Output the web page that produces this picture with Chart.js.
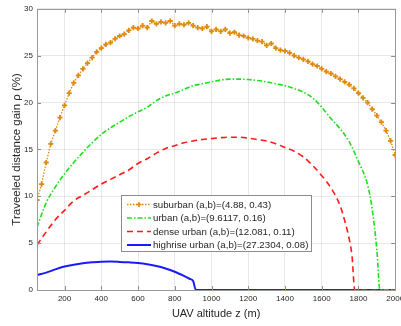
<!DOCTYPE html>
<html>
<head>
<meta charset="utf-8">
<script src="https://cdn.jsdelivr.net/npm/chart.js@4"></script>
<style>
  html, body { margin: 0; padding: 0; background: #fff; }
  #wrap { width: 401px; height: 326px; }
</style>
</head>
<body>
<div id="wrap"><canvas id="gainChart" width="401" height="326"></canvas></div>
<script>
// altitude z (m) and gain (%)
const suburbanZ = [
  50, 75, 100, 125, 150, 175, 200, 225, 250, 275, 300, 325, 350, 375, 400,
  425, 450, 475, 500, 525, 550, 575, 600, 625, 650, 675, 700, 725, 750, 775,
  800, 825, 850, 875, 900, 925, 950, 975, 1000, 1025, 1050, 1075, 1100, 1125,
  1150, 1175, 1200, 1225, 1250, 1275, 1300, 1325, 1350, 1375, 1400, 1425,
  1450, 1475, 1500, 1525, 1550, 1575, 1600, 1625, 1650, 1675, 1700, 1725,
  1750, 1775, 1800, 1825, 1850, 1875, 1900, 1925, 1950, 1975, 2000,
];
const suburbanGain = [
  9.6, 11.3, 13.6, 15.6, 17.0, 18.4, 19.7, 21.0, 22.1, 22.9, 23.6, 24.2, 24.8,
  25.4, 25.8, 26.2, 26.4, 26.8, 27.1, 27.3, 27.7, 28.0, 27.9, 28.2, 28.0,
  28.7, 28.4, 28.6, 28.5, 28.7, 28.2, 28.4, 28.3, 28.5, 28.2, 28.0, 27.9,
  28.1, 27.6, 27.8, 27.6, 27.8, 27.4, 27.5, 27.2, 27.1, 26.9, 26.8, 26.6,
  26.5, 26.1, 26.3, 25.8, 25.6, 25.5, 25.3, 25.0, 24.8, 24.6, 24.4, 24.1,
  23.9, 23.6, 23.3, 23.1, 22.8, 22.5, 22.2, 21.9, 21.5, 21.0, 20.5, 20.0,
  19.3, 18.6, 17.9, 17.0, 15.9, 14.4,
];

const urbanZ = [
  50, 100, 150, 200, 250, 300, 350, 400, 450, 500, 550, 600, 650, 700, 750,
  800, 850, 900, 950, 1000, 1050, 1100, 1150, 1200, 1250, 1300, 1350, 1400,
  1450, 1500, 1550, 1600, 1650, 1700, 1750, 1800, 1850, 1875, 1900, 1917, 2000,
];
const urbanGain = [
  6.7, 9.3, 11.0, 12.4, 13.6, 14.7, 15.7, 16.6, 17.3, 17.9, 18.5, 19.0, 19.5,
  20.2, 20.7, 21.0, 21.4, 21.8, 22.0, 22.2, 22.4, 22.5, 22.5, 22.45, 22.35,
  22.2, 22.0, 21.8, 21.5, 21.1, 20.5, 19.5, 18.3, 17.2, 15.8, 13.7, 11.2,
  8.6, 4.3, 0, 0,
];

const denseZ = [
  50, 100, 150, 200, 250, 300, 350, 400, 450, 500, 550, 600, 650, 700, 750,
  800, 850, 900, 950, 1000, 1050, 1100, 1150, 1200, 1250, 1300, 1350, 1400,
  1450, 1500, 1550, 1600, 1650, 1700, 1725, 1750, 1765, 1780, 2000,
];
const denseGain = [
  4.8, 6.2, 7.5, 8.5, 9.5, 10.1, 10.7, 11.3, 11.8, 12.3, 12.8, 13.5, 14.0,
  14.6, 15.1, 15.4, 15.7, 15.9, 16.05, 16.15, 16.25, 16.3, 16.3, 16.2, 16.05,
  15.9, 15.6, 15.2, 14.8, 14.2, 13.3, 12.2, 10.9, 9.0, 7.4, 5.4, 3.6, 0, 0,
];

const highriseZ = [
  50, 100, 150, 200, 250, 300, 350, 400, 450, 500, 550, 600, 650, 700, 750,
  800, 850, 880, 900, 915, 2000,
];
const highriseGain = [
  1.6, 1.85, 2.2, 2.5, 2.7, 2.85, 2.95, 3.02, 3.03, 3.0, 2.95, 2.88, 2.75,
  2.55, 2.3, 1.95, 1.5, 1.2, 0.95, 0, 0,
];

const seriesLabels = [
  "suburban (a,b)=(4.88, 0.43)",
  "urban (a,b)=(9.6117, 0.16)",
  "dense urban (a,b)=(12.081, 0.11)",
  "highrise urban (a,b)=(27.2304, 0.08)",
];

const xTickValues = [200, 400, 600, 800, 1000, 1200, 1400, 1600, 1800, 2000];
const yTickValues = [0, 5, 10, 15, 20, 25, 30];

function toPoints(zs, gs) {
  return zs.map((z, i) => ({ x: z, y: gs[i] }));
}

const FONT = "'Liberation Sans', Arial, Helvetica, sans-serif";
const TEXT_COLOR = "#262626";

// box around the axes with inward ticks, MATLAB style
const axesBox = {
  id: "axesBox",
  afterDraw(chart) {
    const { ctx, chartArea: a, scales } = chart;
    ctx.save();
    ctx.strokeStyle = "#8c8c8c";
    ctx.lineWidth = 1;
    ctx.beginPath();
    xTickValues.forEach((v) => {
      const px = Math.round(scales.x.getPixelForValue(v)) + 0.5;
      ctx.moveTo(px, a.bottom);
      ctx.lineTo(px, a.bottom - 4);
      ctx.moveTo(px, a.top);
      ctx.lineTo(px, a.top + 4);
    });
    yTickValues.forEach((v) => {
      const py = Math.round(scales.y.getPixelForValue(v)) + 0.5;
      ctx.moveTo(a.left, py);
      ctx.lineTo(a.left + 4, py);
      ctx.moveTo(a.right, py);
      ctx.lineTo(a.right - 4, py);
    });
    ctx.stroke();
    ctx.strokeStyle = "#999999";
    ctx.strokeRect(
      Math.round(a.left) + 0.5,
      Math.round(a.top) + 0.5,
      Math.round(a.right - a.left),
      Math.round(a.bottom - a.top)
    );
    ctx.restore();
  },
};

// legend box inside the axes
const boxLegend = {
  id: "boxLegend",
  afterDraw(chart) {
    const { ctx } = chart;
    const left = 121, top = 195, width = 190, height = 56;
    ctx.save();
    ctx.fillStyle = "#fff";
    ctx.fillRect(left, top, width, height);
    ctx.strokeStyle = "#8c8c8c";
    ctx.lineWidth = 1;
    ctx.strokeRect(left + 0.5, top + 0.5, width, height);
    ctx.font = "9.7px " + FONT;
    ctx.textBaseline = "middle";
    chart.data.datasets.forEach((ds, i) => {
      const y = top + 9.5 + i * 13.5;
      ctx.strokeStyle = ds.borderColor;
      ctx.lineWidth = ds.borderWidth;
      ctx.setLineDash(ds.borderDash || []);
      ctx.beginPath();
      ctx.moveTo(left + 6, y);
      ctx.lineTo(left + 30, y);
      ctx.stroke();
      ctx.setLineDash([]);
      if (ds.pointRadius > 0) {
        ctx.lineWidth = 1.5;
        ctx.beginPath();
        ctx.moveTo(left + 18 - 2.5, y);
        ctx.lineTo(left + 18 + 2.5, y);
        ctx.moveTo(left + 18, y - 2.5);
        ctx.lineTo(left + 18, y + 2.5);
        ctx.stroke();
      }
      ctx.fillStyle = TEXT_COLOR;
      ctx.fillText(ds.label, left + 32, y + 0.5);
    });
    ctx.restore();
  },
};

new Chart(document.getElementById("gainChart").getContext("2d"), {
  type: "line",
  data: {
    datasets: [
      {
        label: seriesLabels[0],
        data: toPoints(suburbanZ, suburbanGain),
        borderColor: "#e08a12",
        backgroundColor: "#e08a12",
        borderWidth: 1.3,
        borderDash: [1.5, 1.5],
        pointStyle: "cross",
        pointRadius: 2.6,
        pointBorderWidth: 1.8,
        tension: 0,
      },
      {
        label: seriesLabels[1],
        data: toPoints(urbanZ, urbanGain),
        borderColor: "#1be01b",
        borderWidth: 1.6,
        borderDash: [5, 2, 1.5, 2],
        pointRadius: 0,
        cubicInterpolationMode: "monotone",
      },
      {
        label: seriesLabels[2],
        data: toPoints(denseZ, denseGain),
        borderColor: "#ff1a1a",
        borderWidth: 1.6,
        borderDash: [6, 4],
        pointRadius: 0,
        cubicInterpolationMode: "monotone",
      },
      {
        label: seriesLabels[3],
        data: toPoints(highriseZ, highriseGain),
        borderColor: "#1a1aff",
        borderWidth: 2,
        pointRadius: 0,
        cubicInterpolationMode: "monotone",
      },
    ],
  },
  options: {
    responsive: false,
    animation: false,
    events: [],
    layout: { padding: { top: 5, right: 4, left: 0, bottom: 0 } },
    plugins: {
      legend: { display: false },
      tooltip: { enabled: false },
    },
    scales: {
      x: {
        type: "linear",
        min: 50,
        max: 2000,
        afterBuildTicks: (s) => {
          s.ticks = xTickValues.map((v) => ({ value: v }));
        },
        afterFit: (s) => {
          s.height = 36;
          s.paddingLeft = 0;
          s.paddingRight = 0;
        },
        grid: { color: "rgba(0,0,0,0.09)", drawTicks: false },
        border: { display: false },
        ticks: {
          padding: 4,
          maxRotation: 0,
          autoSkip: false,
          color: TEXT_COLOR,
          font: { family: FONT, size: 8 },
          callback: (v) => String(v),
        },
        title: {
          display: true,
          text: "UAV altitude z (m)",
          color: TEXT_COLOR,
          font: { family: FONT, size: 11 },
          padding: { top: 0, bottom: 5 },
        },
      },
      y: {
        min: 0,
        max: 30,
        afterBuildTicks: (s) => {
          s.ticks = yTickValues.map((v) => ({ value: v }));
        },
        afterFit: (s) => {
          s.width = 37;
        },
        grid: { color: "rgba(0,0,0,0.09)", drawTicks: false },
        border: { display: false },
        ticks: {
          padding: 4,
          color: TEXT_COLOR,
          font: { family: FONT, size: 8 },
          callback: (v) => String(v),
        },
        title: {
          display: true,
          text: "Traveeled distance gain ρ (%)",
          color: TEXT_COLOR,
          font: { family: FONT, size: 11.5 },
          padding: { top: 9.5, bottom: 0 },
        },
      },
    },
  },
  plugins: [axesBox, boxLegend],
});
</script>
</body>
</html>
